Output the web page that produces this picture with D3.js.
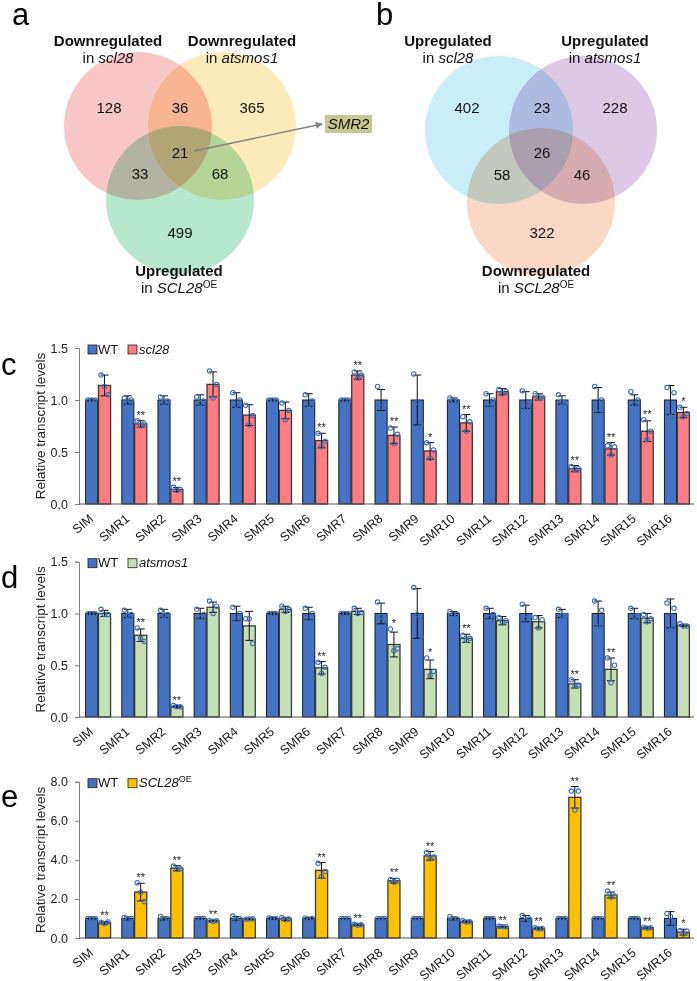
<!DOCTYPE html>
<html><head><meta charset="utf-8">
<script src="https://cdn.jsdelivr.net/npm/d3@7/dist/d3.min.js"></script>
<style>
body{margin:0;background:#fff;}
svg{display:block;font-family:"Liberation Sans",Arial,Helvetica,sans-serif;}
</style></head>
<body>
<svg id="fig" width="697" height="981"></svg>
<script>
// ---------------- DATA ----------------
const categories = ["SIM","SMR1","SMR2","SMR3","SMR4","SMR5","SMR6","SMR7","SMR8","SMR9","SMR10","SMR11","SMR12","SMR13","SMR14","SMR15","SMR16"];

// Venn counts: [A only, A∩B, B only, A∩C, A∩B∩C, B∩C, C only]
const vennA = [128, 36, 365, 33, 21, 68, 499];
const vennB = [402, 23, 228, 58, 26, 46, 322];

// Panel c: WT vs scl28
const cWTMean = [1,1,1,1,1,1,1,1,1,1,1,1,1,1,1,1,1];
const cWTErr  = [0.01,0.04,0.04,0.05,0.07,0.01,0.06,0.01,0.10,0.24,0.02,0.06,0.08,0.04,0.12,0.05,0.14];
const cMutMean = [1.14,0.77,0.14,1.15,0.855,0.90,0.61,1.24,0.66,0.51,0.78,1.08,1.03,0.34,0.53,0.70,0.88];
const cMutErr  = [0.10,0.03,0.02,0.12,0.10,0.08,0.07,0.04,0.08,0.08,0.08,0.03,0.03,0.03,0.06,0.10,0.05];
const cWTPts = [[1.0,1.0,1.0],[1.02,0.97,1.0],[1.03,0.98,0.99],[1.03,0.97,0.99],[1.07,0.95,1.0],[1.0,1.0,1.0],[1.05,0.96,0.99],[1.0,1.0,1.0],[1.13,0.93,0.95],[1.25,0.98,0.77],[1.02,0.99,0.99],[1.06,0.93,1.0],[1.09,0.93,0.98],[1.05,0.98,0.97],[1.13,0.88,1.0],[1.08,0.96,1.0],[1.12,0.84,1.07]];
const cMutPts = [[1.24,1.13,1.05],[0.80,0.75,0.77],[0.16,0.13,0.14],[1.28,1.02,1.15],[0.95,0.76,0.85],[0.97,0.81,0.90],[0.68,0.55,0.60],[1.27,1.21,1.24],[0.73,0.58,0.67],[0.59,0.44,0.52],[0.84,0.70,0.79],[1.10,1.06,1.08],[1.06,1.02,1.03],[0.36,0.33,0.34],[0.56,0.47,0.55],[0.81,0.62,0.70],[0.93,0.84,0.87]];
const cSig = ["","**","**","","","","**","**","**","*","**","","","**","**","**","*"];

// Panel d: WT vs atsmos1
const dWTMean = [1,1,1,1,1,1,1,1,1,1,1,1,1,1,1,1,1];
const dWTErr  = [0.01,0.04,0.04,0.05,0.07,0.01,0.06,0.01,0.10,0.24,0.02,0.05,0.08,0.04,0.12,0.05,0.14];
const dMutMean = [1.0,0.79,0.10,1.06,0.88,1.04,0.475,1.02,0.70,0.46,0.76,0.93,0.92,0.32,0.46,0.955,0.885];
const dMutErr  = [0.03,0.06,0.01,0.05,0.14,0.03,0.06,0.03,0.12,0.09,0.04,0.04,0.06,0.04,0.11,0.045,0.01];
const dWTPts = [[1.0,1.0,1.0],[1.03,0.98,0.99],[1.03,0.98,0.99],[1.04,0.96,0.99],[1.06,0.94,1.0],[1.0,1.0,1.0],[1.05,0.94,1.0],[1.0,1.0,1.0],[1.11,0.97,0.94],[1.25,0.99,0.78],[1.02,0.99,0.99],[1.05,0.96,0.99],[1.09,0.95,0.97],[1.04,0.98,0.98],[1.12,0.87,1.03],[1.05,0.97,0.98],[1.10,0.84,1.05]];
const dMutPts = [[1.04,0.99,0.99],[0.86,0.76,0.73],[0.11,0.10,0.10],[1.12,1.0,1.07],[0.95,0.95,0.71],[1.07,1.02,1.04],[0.53,0.42,0.48],[1.05,1.0,1.01],[0.85,0.64,0.66],[0.57,0.40,0.44],[0.79,0.74,0.76],[0.96,0.92,0.93],[0.96,0.86,0.94],[0.36,0.31,0.31],[0.57,0.33,0.50],[0.99,0.92,0.95],[0.90,0.88,0.88]];
const dSig = ["","**","**","","","","**","","*","*","**","","","**","**","",""];

// Panel e: WT vs SCL28OE
const eWTMean = [1,1,1,1,1,1,1,1,1,1,1,1,1,1,1,1,1];
const eWTErr  = [0.03,0.08,0.08,0.03,0.10,0.05,0.05,0.02,0.02,0.03,0.08,0.04,0.15,0.03,0.03,0.03,0.35];
const eMutMean = [0.78,2.35,3.57,0.88,0.97,0.98,3.46,0.68,2.93,4.20,0.84,0.58,0.49,7.20,2.20,0.52,0.30];
const eMutErr  = [0.07,0.45,0.13,0.04,0.04,0.08,0.40,0.05,0.12,0.22,0.06,0.03,0.05,0.55,0.15,0.05,0.15];
const eWTPts = [[1.0,1.0,1.0],[1.05,0.95,1.0],[1.1,0.95,0.98],[1.0,1.0,1.0],[1.12,0.92,0.98],[1.02,0.98,1.0],[1.03,0.97,1.0],[1.0,1.0,1.0],[1.0,1.0,1.0],[1.0,1.0,1.0],[1.1,0.95,0.97],[1.0,1.0,1.0],[1.15,0.9,0.97],[1.0,1.0,1.0],[1.0,1.0,1.0],[1.0,1.0,1.0],[1.26,1.1,0.62]];
const eMutPts = [[0.80,0.73,0.82],[2.83,2.34,1.86],[3.68,3.50,3.55],[0.90,0.85,0.88],[0.96,0.97,0.98],[1.05,0.93,0.97],[3.82,3.15,3.40],[0.70,0.65,0.68],[3.00,2.85,2.95],[4.38,4.05,4.15],[0.88,0.82,0.83],[0.60,0.57,0.58],[0.52,0.46,0.49],[7.52,6.55,7.52],[2.40,2.10,2.15],[0.55,0.50,0.52],[0.37,0.20,0.35]];
const eSig = ["**","**","**","**","","","**","**","**","**","","**","**","**","**","**","*"];

const ticksCD = [0, 0.5, 1.0, 1.5];
const ticksE = [0, 2, 4, 6, 8];

// ---------------- DRAW ----------------
const svg = d3.select("#fig");

// Panel letters
function letter(t, x, y){
  svg.append("text").attr("x",x).attr("y",y).attr("font-size",31).attr("fill","#000").text(t);
}
letter("a", 12, 25);
letter("b", 376, 25);

// ---------- Venn ----------
function venn(cfg){
  const g = svg.append("g");
  const cg = g.append("g").style("isolation","isolate");
  cfg.circles.forEach(c=>{
    cg.append("circle").attr("cx",c.cx).attr("cy",c.cy).attr("r",74)
      .attr("fill",c.fill).style("mix-blend-mode","multiply");
  });
  const pos = cfg.numPos;
  cfg.counts.forEach((n,i)=>{
    g.append("text").attr("x",pos[i][0]).attr("y",pos[i][1]).attr("text-anchor","middle")
      .attr("font-size",15).attr("fill","#111").text(n);
  });
  cfg.labels.forEach(l=>{
    g.append("text").attr("x",l.x).attr("y",l.y).attr("text-anchor","middle")
      .attr("font-size",15).attr("font-weight","bold").attr("fill","#111").text(l.t1);
    const t = g.append("text").attr("x",l.x).attr("y",l.y+17).attr("text-anchor","middle")
      .attr("font-size",15).attr("fill","#111");
    t.append("tspan").text("in ");
    t.append("tspan").attr("font-style","italic").text(l.t2);
    if(l.sup){ t.append("tspan").attr("font-size",10).attr("dy",-5).text(l.sup); }
  });
  return g;
}

venn({
  circles:[{cx:138,cy:126,fill:"#F9C6C6"},{cx:222,cy:126,fill:"#FDEBBB"},{cx:180,cy:200,fill:"#B7E8CF"}],
  counts: vennA,
  numPos: [[109,113],[180,113],[252,113],[140,179],[180,158],[220,179],[180,238]],
  labels: [{x:108,y:46,t1:"Downregulated",t2:"scl28"},{x:242,y:46,t1:"Downregulated",t2:"atsmos1"},{x:179,y:276,t1:"Upregulated",t2:"SCL28",sup:"OE"}]
});
venn({
  circles:[{cx:499,cy:130,fill:"#C9EDF9"},{cx:583,cy:130,fill:"#DCC9E6"},{cx:541,cy:202,fill:"#F9D9C5"}],
  counts: vennB,
  numPos: [[467,113],[542,113],[615,113],[502,180],[542,158],[582,180],[542,238]],
  labels: [{x:448,y:46,t1:"Upregulated",t2:"scl28"},{x:605,y:46,t1:"Upregulated",t2:"atsmos1"},{x:536,y:276,t1:"Downregulated",t2:"SCL28",sup:"OE"}]
});

// arrow + SMR2 box
svg.append("defs").append("marker").attr("id","ah").attr("viewBox","0 0 10 10")
  .attr("refX",9).attr("refY",5).attr("markerWidth",5).attr("markerHeight",5).attr("orient","auto")
  .append("path").attr("d","M0,0L10,5L0,10Z").attr("fill","#808080");
svg.append("line").attr("x1",194).attr("y1",151).attr("x2",322).attr("y2",124)
  .attr("stroke","#808080").attr("stroke-width",1.4).attr("marker-end","url(#ah)");
svg.append("rect").attr("x",325).attr("y",115).attr("width",47).attr("height",18).attr("fill","#C7C88F");
svg.append("text").attr("x",348.5).attr("y",129).attr("text-anchor","middle").attr("font-size",15)
  .attr("font-style","italic").attr("fill","#111").text("SMR2");

// ---------- Bar panels ----------
const x = d3.scaleBand().domain(categories).range([80,695]).paddingInner(0.31).paddingOuter(0.155);
const xs = d3.scaleBand().domain(["WT","mut"]).range([0, x.bandwidth()]).paddingInner(0.06);
const WTBlue = "#4472C4";
const ptOff = [-3.5, 0, 3.5];

function barPanel(cfg){
  const y = d3.scaleLinear().domain([0, cfg.max]).range([cfg.yBot, cfg.yTop]);
  const g = svg.append("g");
  letter(cfg.letter, 1, cfg.letterY);

  // y axis
  const ax = g.append("g").attr("transform","translate(79,0)")
    .call(d3.axisLeft(y).tickValues(cfg.ticks).tickFormat(d3.format(".1f")).tickSize(4).tickPadding(7));
  ax.select(".domain").attr("stroke","#808080");
  ax.selectAll(".tick line").attr("stroke","#808080");
  ax.selectAll(".tick text").attr("font-size",12.5).attr("fill","#222").attr("font-family","Liberation Sans, Arial, sans-serif");

  g.append("text").attr("transform",`translate(45,${(cfg.yTop+cfg.yBot)/2}) rotate(-90)`)
    .attr("text-anchor","middle").attr("font-size",13.5).attr("fill","#222").text("Relative transcript levels");

  const series = [
    {key:"WT", mean:cfg.wtMean, err:cfg.wtErr, pts:cfg.wtPts, fill:WTBlue, stroke:"#1a1a1a", sw:1},
    {key:"mut", mean:cfg.mutMean, err:cfg.mutErr, pts:cfg.mutPts, fill:cfg.mutColor, stroke:"#3a3a3a", sw:1.3}
  ];
  series.forEach(s=>{
    const bw = xs.bandwidth();
    const gs = g.append("g");
    gs.selectAll("rect").data(categories).join("rect")
      .attr("x",(c)=>x(c)+xs(s.key)).attr("width",bw)
      .attr("y",(c,i)=>y(s.mean[i])).attr("height",(c,i)=>y(0)-y(s.mean[i]))
      .attr("fill",s.fill).attr("stroke",s.stroke).attr("stroke-width",s.sw);
    // error bars
    categories.forEach((c,i)=>{
      const cx = x(c)+xs(s.key)+bw/2;
      const t = y(s.mean[i]+s.err[i]), b = y(s.mean[i]-s.err[i]);
      gs.append("line").attr("x1",cx).attr("x2",cx).attr("y1",t).attr("y2",b).attr("stroke","#111").attr("stroke-width",1);
      gs.append("line").attr("x1",cx-4).attr("x2",cx+4).attr("y1",t).attr("y2",t).attr("stroke","#111").attr("stroke-width",1);
      gs.append("line").attr("x1",cx-4).attr("x2",cx+4).attr("y1",b).attr("y2",b).attr("stroke","#111").attr("stroke-width",1);
      s.pts[i].forEach((v,j)=>{
        gs.append("circle").attr("cx",cx+ptOff[j]).attr("cy",y(v)).attr("r",2.2)
          .attr("fill","none").attr("stroke","#3E6DB5").attr("stroke-width",1.1);
      });
      if(s.key==="mut" && cfg.sig[i]){
        const top = Math.min(t, y(d3.max(s.pts[i])));
        gs.append("text").attr("x",cx).attr("y",top-2).attr("text-anchor","middle")
          .attr("font-size",11).attr("fill","#222").text(cfg.sig[i]);
      }
    });
  });

  // x baseline
  g.append("line").attr("x1",79).attr("x2",694).attr("y1",cfg.yBot).attr("y2",cfg.yBot)
    .attr("stroke","#555").attr("stroke-width",1);

  // x labels
  categories.forEach(c=>{
    const cx = x(c)+x.bandwidth()/2 - 4;
    g.append("text").attr("transform",`translate(${cx},${cfg.yBot+16}) rotate(-40)`)
      .attr("text-anchor","end").attr("font-size",12.5).attr("fill","#111").text(c);
  });

  // legend
  const ly = y(cfg.max);
  g.append("rect").attr("x",88).attr("y",ly-3).attr("width",9).attr("height",9).attr("fill",WTBlue).attr("stroke","#222").attr("stroke-width",0.8);
  g.append("text").attr("x",98).attr("y",ly+5.5).attr("font-size",13).attr("fill","#111").text("WT");
  g.append("rect").attr("x",128).attr("y",ly-3).attr("width",9).attr("height",9).attr("fill",cfg.mutColor).attr("stroke","#222").attr("stroke-width",0.8);
  const lt = g.append("text").attr("x",139).attr("y",ly+5.5).attr("font-size",13).attr("fill","#111");
  lt.append("tspan").attr("font-style","italic").text(cfg.mutLabel);
  if(cfg.mutSup) lt.append("tspan").attr("font-size",9).attr("dy",-5).text(cfg.mutSup);
}

barPanel({letter:"c", letterY:375, yTop:348, yBot:504, max:1.5, ticks:ticksCD,
  wtMean:cWTMean, wtErr:cWTErr, wtPts:cWTPts, mutMean:cMutMean, mutErr:cMutErr, mutPts:cMutPts,
  sig:cSig, mutColor:"#FF7C80", mutLabel:"scl28"});
barPanel({letter:"d", letterY:588, yTop:561.7, yBot:717, max:1.5, ticks:ticksCD,
  wtMean:dWTMean, wtErr:dWTErr, wtPts:dWTPts, mutMean:dMutMean, mutErr:dMutErr, mutPts:dMutPts,
  sig:dSig, mutColor:"#C5E0B4", mutLabel:"atsmos1"});
barPanel({letter:"e", letterY:807, yTop:781.7, yBot:938, max:8, ticks:ticksE,
  wtMean:eWTMean, wtErr:eWTErr, wtPts:eWTPts, mutMean:eMutMean, mutErr:eMutErr, mutPts:eMutPts,
  sig:eSig, mutColor:"#FFC000", mutLabel:"SCL28", mutSup:"OE"});
</script>
</body></html>
